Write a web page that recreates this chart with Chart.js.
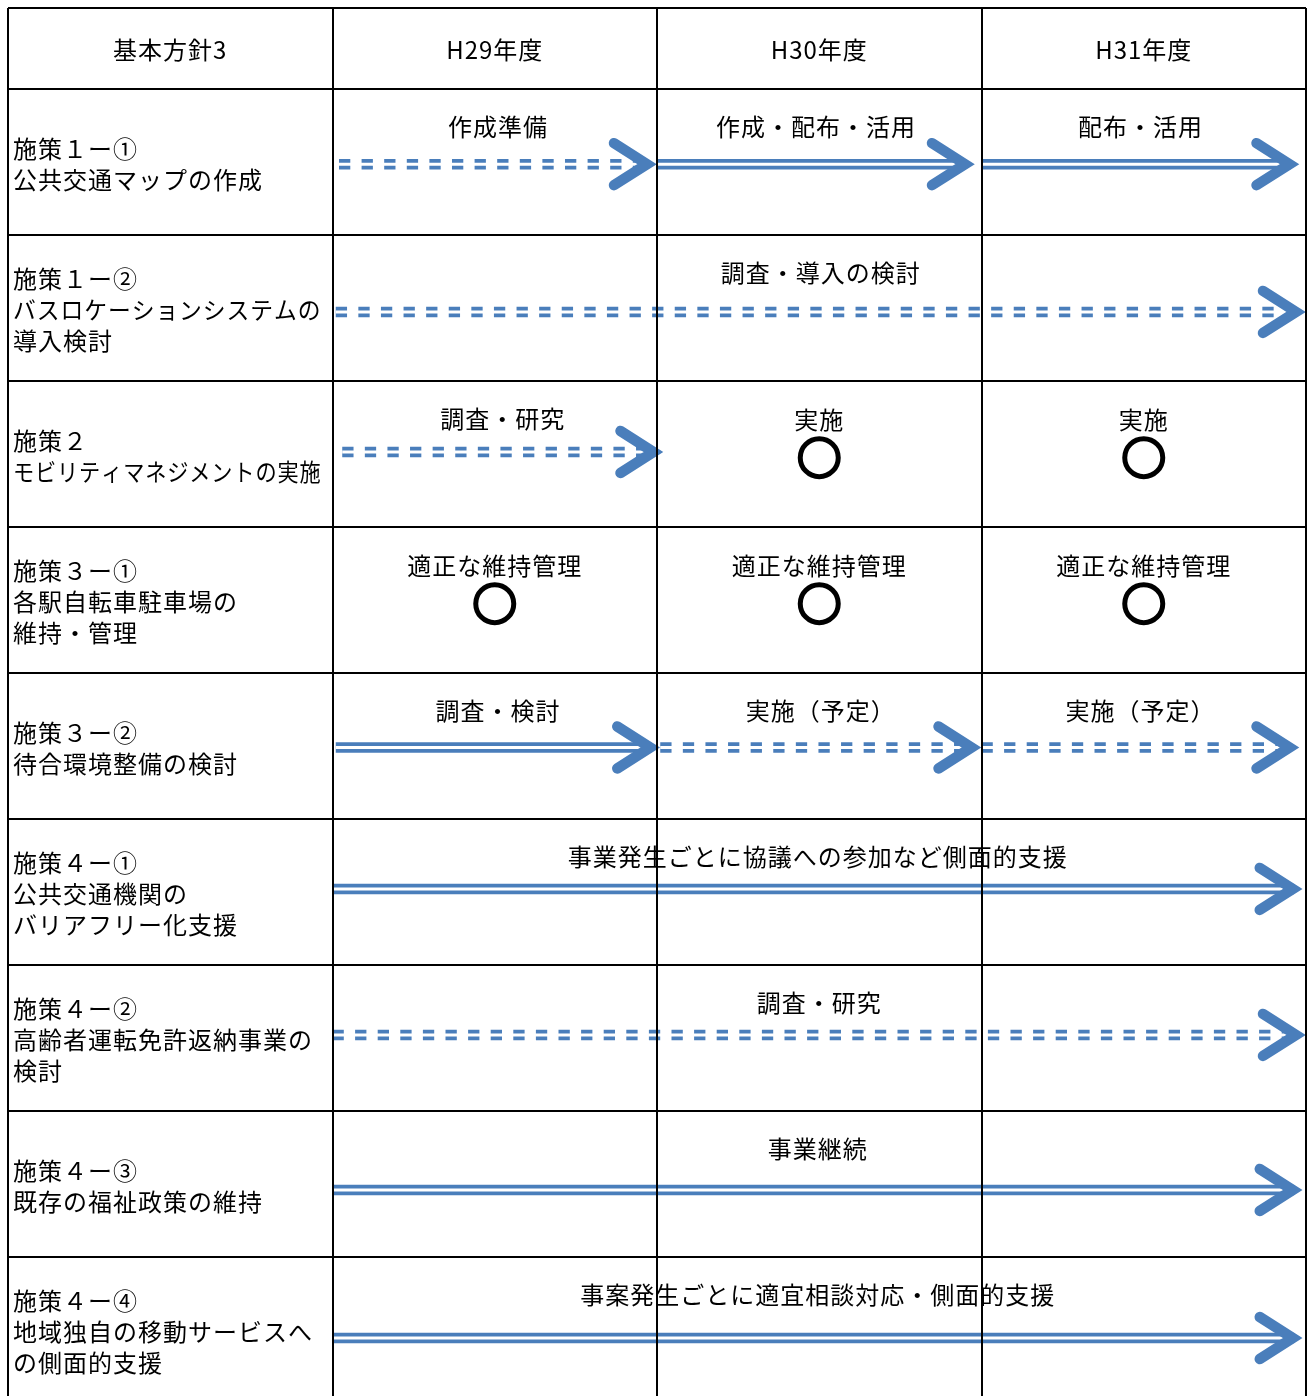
<!DOCTYPE html>
<html lang="ja">
<head>
  <meta charset="UTF-8">
  <title>基本方針3 スケジュール</title>
  <script src="https://cdn.jsdelivr.net/npm/chart.js"></script>
  <style>
    body { margin: 0; background: #fff; }
    #wrap { width: 1309px; height: 1396px; }
  </style>
</head>
<body>
  <div id="wrap"><canvas id="plan" width="1309" height="1396"></canvas></div>

  <script>
    // header row
    const headers = ['基本方針3', 'H29年度', 'H30年度', 'H31年度'];

    // first column, one entry per row (lines as printed)
    const measures = [
      ['施策１ー①', '公共交通マップの作成'],
      ['施策１ー②', 'バスロケーションシステムの', '導入検討'],
      ['施策２', 'モビリティマネジメントの実施'],
      ['施策３ー①', '各駅自転車駐車場の', '維持・管理'],
      ['施策３ー②', '待合環境整備の検討'],
      ['施策４ー①', '公共交通機関の', 'バリアフリー化支援'],
      ['施策４ー②', '高齢者運転免許返納事業の', '検討'],
      ['施策４ー③', '既存の福祉政策の維持'],
      ['施策４ー④', '地域独自の移動サービスへ', 'の側面的支援']
    ];

    // arrows on the fiscal-year scale (label column = 28, H29 = 29, H30 = 30, H31 = 31)
    const arrowRow  = [0, 0, 0, 1, 2, 4, 4, 4, 5, 6, 7, 8];
    const arrowFrom = [29.02, 30.00, 31.00, 29.01, 29.03, 29.01, 30.01, 31.00, 29.00, 29.00, 29.00, 29.00];
    const arrowTo   = [30.00, 30.98, 31.98, 32.00, 30.02, 30.01, 31.00, 31.98, 31.99, 32.00, 31.99, 31.99];
    const arrowKind = ['dashed', 'solid', 'solid', 'dashed', 'dashed', 'solid', 'dashed', 'dashed', 'solid', 'dashed', 'solid', 'solid'];
    const arrowText = ['作成準備', '作成・配布・活用', '配布・活用', '調査・導入の検討', '調査・研究',
                       '調査・検討', '実施（予定）', '実施（予定）',
                       '事業発生ごとに協議への参加など側面的支援', '調査・研究', '事業継続',
                       '事案発生ごとに適宜相談対応・側面的支援'];

    // circle marks (○)
    const markRow  = [2, 2, 3, 3, 3];
    const markYear = [30, 31, 29, 30, 31];
    const markText = ['実施', '実施', '適正な維持管理', '適正な維持管理', '適正な維持管理'];

    // layout only: where the arrow sits inside each row (fraction of row height)
    const arrowLift = [0.515, 0.527, 0.486, 0.52, 0.51, 0.479, 0.479, 0.541, 0.555];
    const headerTop = -81 / 146;   // header row is shorter than the body rows
    const yMax = 1307 / 146;       // last row is cut by the page edge

    const BLUE = '#4a7ebb';
    const FONT = '24px "Noto Sans CJK JP", "Noto Sans CJK SC", sans-serif';

    function shaftPoints(i) {
      const r = arrowRow[i];
      return [{ x: arrowFrom[i], y: r + arrowLift[r] }, { x: arrowTo[i], y: r + arrowLift[r] }];
    }

    const datasets = [];
    // blue shafts (drawn below: higher order)
    arrowRow.forEach(function(r, i) {
      datasets.push({
        type: 'line', data: shaftPoints(i), shaft: true, order: 2,
        borderColor: BLUE, borderWidth: 10.5,
        borderDash: arrowKind[i] === 'dashed' ? [11.3, 11.3] : [],
        borderCapStyle: 'butt', pointRadius: 0
      });
    });
    // white core makes the double line
    arrowRow.forEach(function(r, i) {
      datasets.push({
        type: 'line', data: shaftPoints(i), core: true, order: 1,
        borderColor: '#ffffff', borderWidth: 3, borderCapStyle: 'butt', pointRadius: 0
      });
    });
    datasets.push({
      type: 'scatter', order: 0,
      data: markRow.map(function(r, i) { return { x: markYear[i] + 0.5, y: r + 0.525 }; }),
      pointStyle: 'circle', pointRadius: 19, borderWidth: 5,
      borderColor: '#000', backgroundColor: 'rgba(0,0,0,0)'
    });

    // texts and arrow heads
    const tablePlugin = {
      id: 'tablePlugin',
      // stop the shaft a little before the tip so it hides inside the head
      beforeDatasetDraw: function(chart, args) {
        const ds = chart.data.datasets[args.index];
        if (!ds.shaft && !ds.core) return;
        const end = args.meta.data[1];
        const ctx = chart.ctx;
        ctx.save();
        ctx.beginPath();
        ctx.rect(0, 0, end.x - 9, chart.height);
        ctx.clip();
      },
      afterDatasetDraw: function(chart, args) {
        const ds = chart.data.datasets[args.index];
        if (ds.shaft || ds.core) chart.ctx.restore();
      },
      afterDatasetsDraw: function(chart) {
        const ctx = chart.ctx;
        const xs = chart.scales.x, ys = chart.scales.y;
        ctx.save();
        ctx.font = FONT;
        ctx.fillStyle = '#000';
        ctx.textBaseline = 'middle';
        if ('letterSpacing' in ctx) ctx.letterSpacing = '1px';

        // header
        ctx.textAlign = 'center';
        headers.forEach(function(h, i) {
          ctx.fillText(h, xs.getPixelForValue(28.5 + i), ys.getPixelForValue(-0.27));
        });

        // first column
        ctx.textAlign = 'left';
        const cellW = xs.getPixelForValue(29) - xs.getPixelForValue(28) - 16;
        measures.forEach(function(lines, r) {
          const cy = ys.getPixelForValue(r + 0.5) + 2;
          lines.forEach(function(t, k) {
            ctx.fillText(t, xs.getPixelForValue(28) + 5, cy + (k - (lines.length - 1) / 2) * 31, cellW);
          });
        });

        // captions
        ctx.textAlign = 'center';
        arrowText.forEach(function(t, i) {
          ctx.fillText(t, xs.getPixelForValue((arrowFrom[i] + arrowTo[i]) / 2), ys.getPixelForValue(arrowRow[i] + 0.262));
        });
        markText.forEach(function(t, i) {
          ctx.fillText(t, xs.getPixelForValue(markYear[i] + 0.5), ys.getPixelForValue(markRow[i] + 0.267));
        });

        // chevron heads
        ctx.strokeStyle = BLUE;
        ctx.lineWidth = 10.5;
        ctx.lineCap = 'round';
        ctx.lineJoin = 'miter';
        ctx.miterLimit = 10;
        chart.data.datasets.forEach(function(ds, i) {
          if (!ds.shaft) return;
          const end = chart.getDatasetMeta(i).data[1];
          const vx = end.x - 10;
          ctx.beginPath();
          ctx.moveTo(vx - 33, end.y - 21);
          ctx.lineTo(vx, end.y);
          ctx.lineTo(vx - 33, end.y + 21);
          ctx.stroke();
        });
        ctx.restore();
      }
    };

    new Chart(document.getElementById('plan'), {
      type: 'line',
      data: { datasets: datasets },
      options: {
        responsive: false,
        animation: false,
        events: [],
        layout: { autoPadding: false, padding: { left: 8, top: 8, right: 3, bottom: 0 } },
        plugins: { legend: { display: false }, tooltip: { enabled: false } },
        scales: {
          x: {
            type: 'linear', min: 28, max: 32,
            afterBuildTicks: function(s) { s.ticks = [28, 29, 30, 31, 32].map(function(v) { return { value: v }; }); },
            ticks: { display: false },
            border: { display: false },
            grid: { color: '#000', lineWidth: 2, drawTicks: false, z: 1 }
          },
          y: {
            type: 'linear', reverse: true, min: headerTop, max: yMax,
            afterBuildTicks: function(s) {
              s.ticks = [headerTop, 0, 1, 2, 3, 4, 5, 6, 7, 8].map(function(v) { return { value: v }; });
            },
            ticks: { display: false },
            border: { display: false },
            grid: { color: '#000', lineWidth: 2, drawTicks: false, z: 1 }
          }
        }
      },
      plugins: [tablePlugin]
    });
  </script>
</body>
</html>
